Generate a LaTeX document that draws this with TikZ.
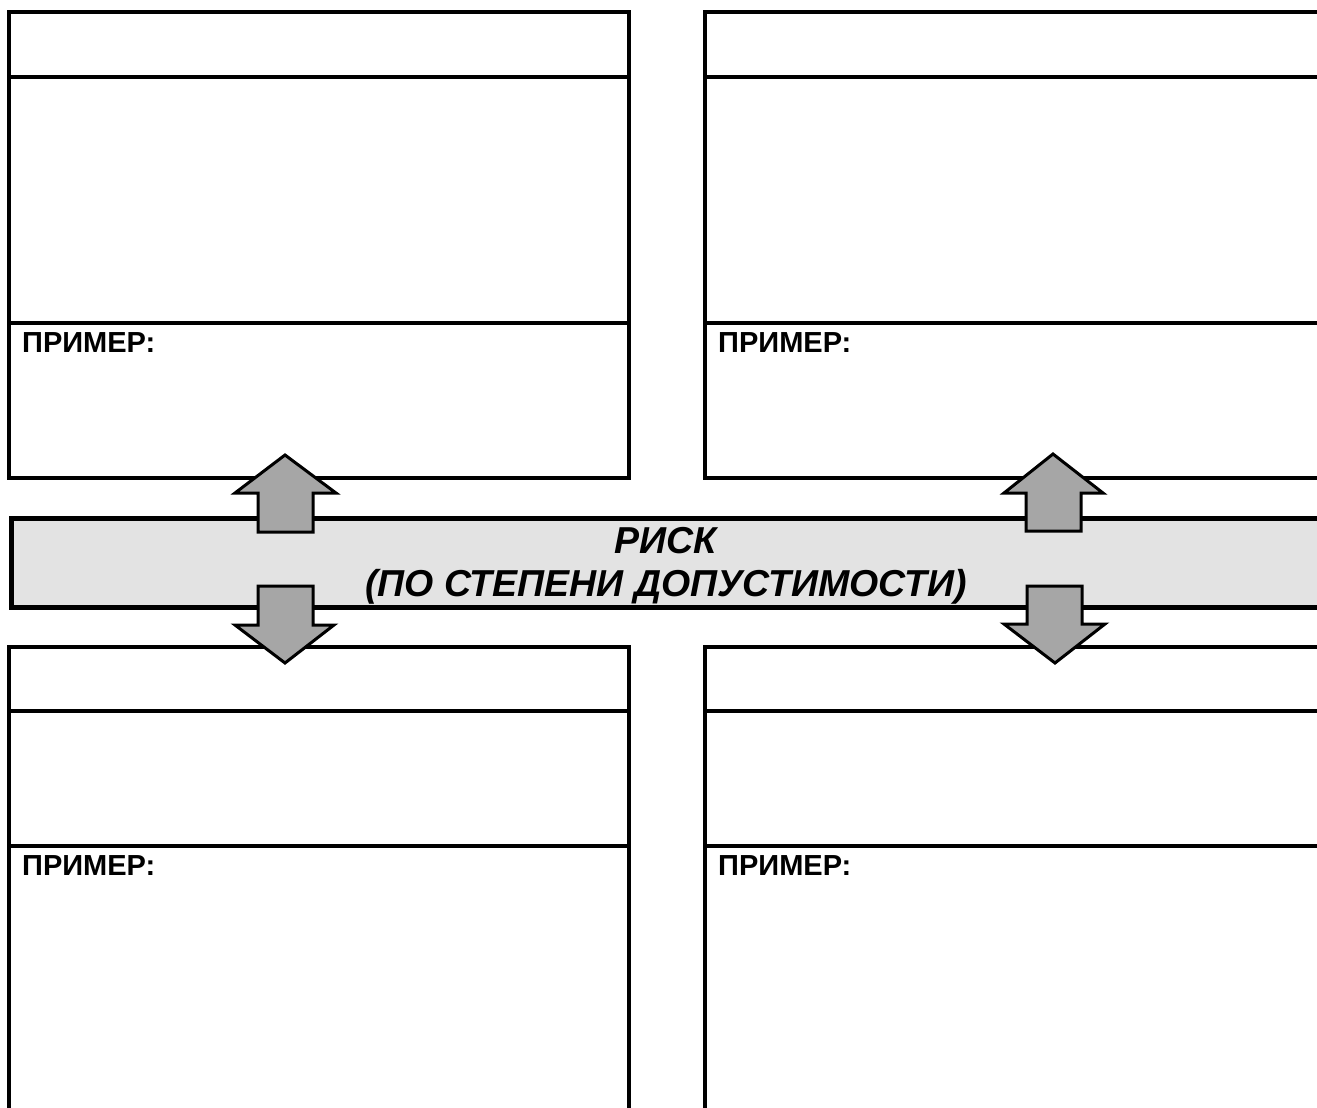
\documentclass[tikz,border=0pt]{standalone}
\usepackage{fontspec}
\setmainfont{Liberation Sans}
\definecolor{bandfill}{HTML}{E3E3E3}
\definecolor{arrowfill}{HTML}{A6A6A6}
\begin{document}
\begin{tikzpicture}[x=1pt,y=-1pt,
  frame/.style={draw=black, line width=4.5pt, line join=miter},
  band/.style={draw=black, fill=bandfill, line width=4.5pt, inner sep=0pt,
    anchor=north west},
  blockarrow/.style={draw=black, fill=arrowfill, line width=3pt, line join=miter},
  examplelabel/.style={anchor=base west, inner sep=0pt,
    font=\fontsize{29}{34}\selectfont\bfseries},
  bandlabel/.style={inner sep=0pt, align=center,
    font=\fontsize{37.5}{43}\selectfont\bfseries\itshape}]
\useasboundingbox (0,0) rectangle (1317,1108);
\clip (0,0) rectangle (1317,1108);

% upper left panel
\draw[frame] (9,12) rectangle (629,478);
\draw[frame] (9,77) -- (629,77);
\draw[frame] (9,323) -- (629,323);
% upper right panel (open to the right)
\draw[frame] (1340,12) -- (705,12) -- (705,478) -- (1340,478);
\draw[frame] (705,77) -- (1340,77);
\draw[frame] (705,323) -- (1340,323);
% lower left panel (open at the bottom)
\draw[frame] (9,1130) -- (9,647) -- (629,647) -- (629,1130);
\draw[frame] (9,711) -- (629,711);
\draw[frame] (9,846) -- (629,846);
% lower right panel (open to the right and at the bottom)
\draw[frame] (705,1130) -- (705,647) -- (1340,647);
\draw[frame] (705,711) -- (1340,711);
\draw[frame] (705,846) -- (1340,846);

\node[examplelabel] (ex1) at (22,352) {ПРИМЕР:};
\node[examplelabel] (ex2) at (718,352) {ПРИМЕР:};
\node[examplelabel] (ex3) at (22,875) {ПРИМЕР:};
\node[examplelabel] (ex4) at (718,875) {ПРИМЕР:};

% central band
\node[band, minimum width=1340pt, minimum height=89pt] (risk) at (9,516) {};
\node[bandlabel] (risktext) at (666,566) {РИСК\\(ПО СТЕПЕНИ ДОПУСТИМОСТИ)};

% block arrows
\draw[blockarrow] (285,455) -- (336,493) -- (313,493) -- (313,532)
  -- (258,532) -- (258,493) -- (235,493) -- cycle;
\draw[blockarrow] (1053,454) -- (1103,493) -- (1081,493) -- (1081,531)
  -- (1026,531) -- (1026,493) -- (1004,493) -- cycle;
\draw[blockarrow] (258,586) -- (313,586) -- (313,625) -- (334,625)
  -- (285,663) -- (235,625) -- (258,625) -- cycle;
\draw[blockarrow] (1027,586) -- (1082,586) -- (1082,624) -- (1105,624)
  -- (1055,663) -- (1004,624) -- (1027,624) -- cycle;
\end{tikzpicture}
\end{document}
